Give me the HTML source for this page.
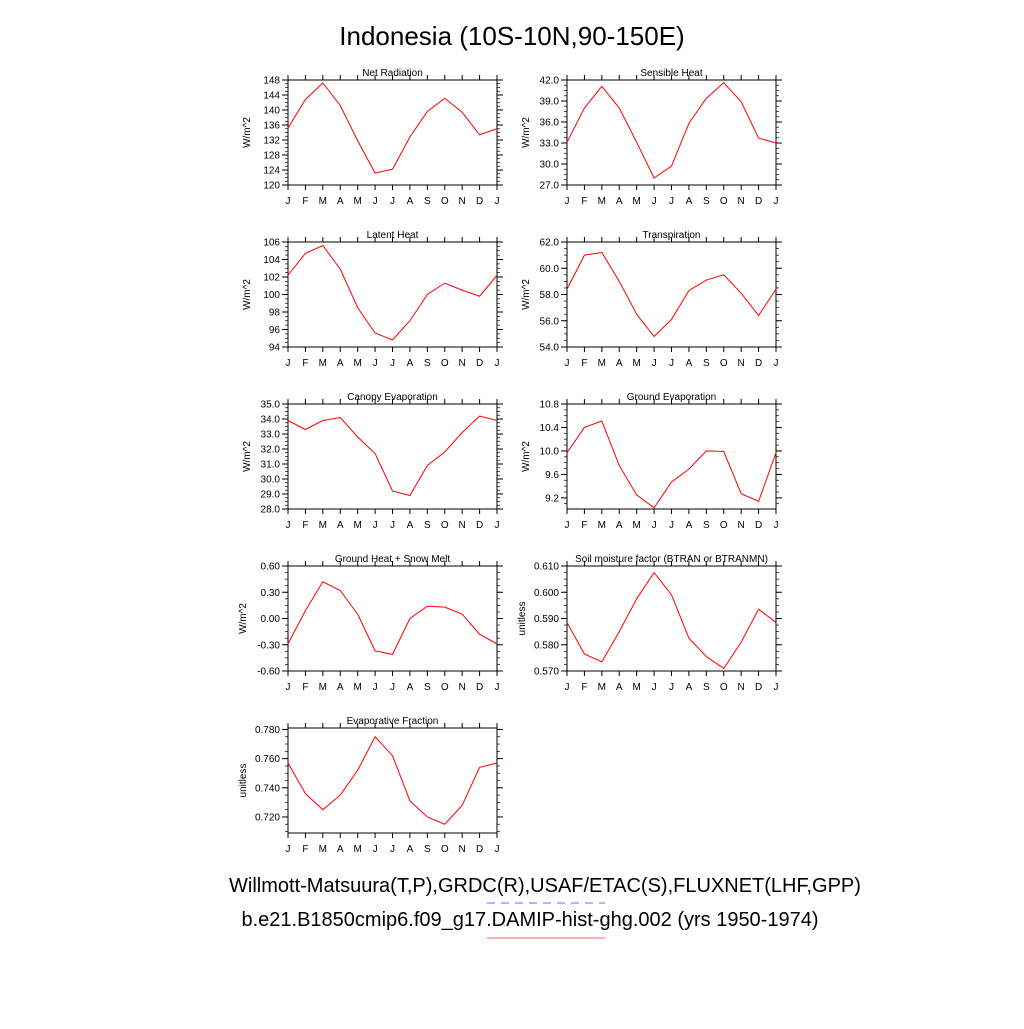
<!DOCTYPE html>
<html><head><meta charset="utf-8"><style>
body{margin:0;background:#fff;}
svg{font-family:"Liberation Sans",sans-serif;}
</style></head><body>
<svg id="chart" width="1024" height="1024" viewBox="0 0 1024 1024" xmlns="http://www.w3.org/2000/svg">
<rect width="1024" height="1024" fill="#fff"/>
<text x="512" y="45" font-size="26" text-anchor="middle">Indonesia (10S-10N,90-150E)</text>
<g id="panels"></g>
<text x="545" y="892" font-size="20" text-anchor="middle">Willmott-Matsuura(T,P),GRDC(R),USAF/ETAC(S),FLUXNET(LHF,GPP)</text>
<line x1="487" y1="903" x2="605" y2="903" stroke="#6a6aff" stroke-width="1" stroke-dasharray="8,6"/>
<text x="530" y="926" font-size="20" text-anchor="middle">b.e21.B1850cmip6.f09_g17.DAMIP-hist-ghg.002 (yrs 1950-1974)</text>
<line x1="487" y1="938" x2="605" y2="938" stroke="#ff6060" stroke-width="1"/>
</svg>
<script>
const months = ["J","F","M","A","M","J","J","A","S","O","N","D","J"];
const netRad = [135.2,142.8,147.2,141.2,131.8,123.2,124.2,132.8,139.6,143.1,139.4,133.4,135.0];
const sensible = [33.1,38.0,41.1,38.0,33.1,28.0,29.7,35.8,39.4,41.6,38.9,33.7,33.0];
const latent = [102.2,104.7,105.6,102.9,98.5,95.6,94.8,97.0,100.0,101.3,100.5,99.8,102.2];
const transp = [58.4,61.0,61.2,59.0,56.5,54.8,56.1,58.3,59.1,59.5,58.1,56.4,58.4];
const canopy = [33.9,33.3,33.9,34.1,32.8,31.7,29.2,28.9,30.9,31.8,33.1,34.2,33.9];
const groundEvap = [9.97,10.40,10.51,9.75,9.25,9.03,9.47,9.69,10.0,9.99,9.27,9.14,9.97];
const groundHeat = [-0.29,0.09,0.42,0.32,0.05,-0.37,-0.41,0.0,0.14,0.13,0.05,-0.18,-0.29];
const soil = [0.5885,0.5765,0.5735,0.585,0.5975,0.6075,0.599,0.5825,0.5755,0.571,0.581,0.5935,0.5885];
const evapFrac = [0.757,0.736,0.725,0.735,0.752,0.775,0.762,0.731,0.720,0.715,0.728,0.754,0.757];
const ticksNet = ["120","124","128","132","136","140","144","148"];
const ticksSens = ["27.0","30.0","33.0","36.0","39.0","42.0"];
const ticksLat = ["94","96","98","100","102","104","106"];
const ticksTr = ["54.0","56.0","58.0","60.0","62.0"];
const ticksCan = ["28.0","29.0","30.0","31.0","32.0","33.0","34.0","35.0"];
const ticksGE = ["9.2","9.6","10.0","10.4","10.8"];
const ticksGH = ["-0.60","-0.30","0.00","0.30","0.60"];
const ticksSoil = ["0.570","0.580","0.590","0.600","0.610"];
const ticksEF = ["0.720","0.740","0.760","0.780"];

const NS="http://www.w3.org/2000/svg";
const root=document.getElementById('panels');
function mk(tag,attrs,parent){const e=document.createElementNS(NS,tag);for(const k in attrs)e.setAttribute(k,attrs[k]);(parent||root).appendChild(e);return e;}

function panel(name,title,ylab,vals,ticks,ymin,ymax,x0,y0){
  const W=209,H=105;
  const g=mk('g',{});
  
  
  const xs=i=>x0+i*W/12;
  const ys=v=>y0+H-(v-ymin)/(ymax-ymin)*H;
  const t=mk('text',{x:x0+W/2,y:y0-4,'font-size':10,'text-anchor':'middle'},g);t.textContent=title;
  
  
  const fr=mk('rect',{x:x0,y:y0,width:W,height:H,fill:'none',stroke:'#000','stroke-width':1},g);
  
  
  months.forEach((m,i)=>{
    const x=xs(i);
    mk('line',{x1:x,y1:y0+H,x2:x,y2:y0+H+5,stroke:'#000'},g);
    mk('line',{x1:x,y1:y0,x2:x,y2:y0-5,stroke:'#000'},g);
    const l=mk('text',{x:x,y:y0+H+19,'font-size':10,'text-anchor':'middle'},g);l.textContent=m;
    
    
  });
  const step=(parseFloat(ticks[1])-parseFloat(ticks[0]));
  const minor=step/4;
  for(let v=parseFloat(ticks[0])-step;v<=ymax+1e-9;v+=minor){
    if(v<ymin-1e-9)continue;
    const y=ys(v);
    mk('line',{x1:x0,y1:y,x2:x0-3,y2:y,stroke:'#000','stroke-width':0.7},g);
    mk('line',{x1:x0+W,y1:y,x2:x0+W+3,y2:y,stroke:'#000','stroke-width':0.7},g);
  }
  ticks.forEach(s=>{
    const y=ys(parseFloat(s));
    mk('line',{x1:x0,y1:y,x2:x0-6,y2:y,stroke:'#000'},g);
    mk('line',{x1:x0+W,y1:y,x2:x0+W+6,y2:y,stroke:'#000'},g);
    const l=mk('text',{x:x0-8,y:y+3.5,'font-size':10,'text-anchor':'end'},g);l.textContent=s;
    
    
  });
  const yl=mk('text',{x:0,y:0,'font-size':10,'text-anchor':'middle',transform:`translate(${x0-(ticks[0].length>4?42:38)},${y0+H/2}) rotate(-90)`},g);yl.textContent=ylab;
  
  
  const p=mk('polyline',{points:vals.map((v,i)=>xs(i)+','+ys(v)).join(' '),fill:'none',stroke:'#ff0000','stroke-width':1},g);
  
  
}
const L=288,R=567;
panel('net-radiation','Net Radiation','W/m^2',netRad,ticksNet,120,148,L,80);
panel('sensible-heat','Sensible Heat','W/m^2',sensible,ticksSens,27,42,R,80);
panel('latent-heat','Latent Heat','W/m^2',latent,ticksLat,94,106,L,242);
panel('transpiration','Transpiration','W/m^2',transp,ticksTr,54,62,R,242);
panel('canopy-evaporation','Canopy Evaporation','W/m^2',canopy,ticksCan,28,35,L,404);
panel('ground-evaporation','Ground Evaporation','W/m^2',groundEvap,ticksGE,9.01,10.8,R,404);
panel('ground-heat','Ground Heat + Snow Melt','W/m^2',groundHeat,ticksGH,-0.6,0.6,L,566);
panel('soil-moisture','Soil moisture factor (BTRAN or BTRANMN)','unitless',soil,ticksSoil,0.570,0.610,R,566);
panel('evaporative-fraction','Evaporative Fraction','unitless',evapFrac,ticksEF,0.709,0.781,L,728);
</script>
</body></html>
